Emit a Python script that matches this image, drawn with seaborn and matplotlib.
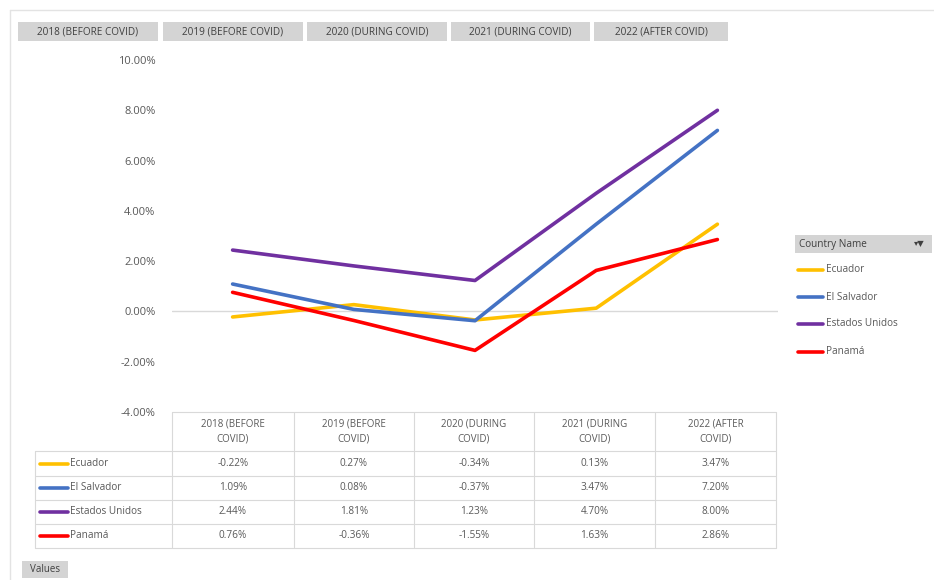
import numpy as np
import pandas as pd
import matplotlib
matplotlib.use("Agg")
import matplotlib.pyplot as plt
from matplotlib.lines import Line2D
from matplotlib.patches import Rectangle
import seaborn as sns

# =========================
# DATA
# =========================
periods = [
    "2018 (BEFORE COVID)",
    "2019 (BEFORE COVID)",
    "2020 (DURING COVID)",
    "2021 (DURING COVID)",
    "2022 (AFTER COVID)",
]
table_headers = [
    "2018 (BEFORE\nCOVID)",
    "2019 (BEFORE\nCOVID)",
    "2020 (DURING\nCOVID)",
    "2021 (DURING\nCOVID)",
    "2022 (AFTER\nCOVID)",
]
countries = ["Ecuador", "El Salvador", "Estados Unidos", "Panamá"]
ecuador = [-0.22, 0.27, -0.34, 0.13, 3.47]
el_salvador = [1.09, 0.08, -0.37, 3.47, 7.20]
estados_unidos = [2.44, 1.81, 1.23, 4.70, 8.00]
panama = [0.76, -0.36, -1.55, 1.63, 2.86]
series = [ecuador, el_salvador, estados_unidos, panama]
colors = ["#FFC000", "#4472C4", "#7030A0", "#FF0000"]
y_ticks = [-4, -2, 0, 2, 4, 6, 8, 10]

df = pd.DataFrame({
    "period": np.tile(np.arange(len(periods)), len(countries)),
    "country": np.repeat(countries, len(periods)),
    "value": np.concatenate(series),
})

# =========================
# STYLE
# =========================
sns.set_theme(style="white")
plt.rcParams["font.family"] = ["Open Sans", "DejaVu Sans"]

W, H = 934, 580
fig = plt.figure(figsize=(W / 100, H / 100), dpi=100)
fig.patch.set_facecolor("white")


def fx(x):
    return x / W


def fy(y):
    return 1 - y / H


def hline(x0, x1, y, color="#d9d9d9", lw=0.8):
    fig.add_artist(Line2D([fx(x0), fx(x1)], [fy(y), fy(y)], color=color, lw=lw))


def vline(x, y0, y1, color="#d9d9d9", lw=0.8):
    fig.add_artist(Line2D([fx(x), fx(x)], [fy(y0), fy(y1)], color=color, lw=lw))


def box(x0, y0, x1, y1, color):
    fig.add_artist(Rectangle((fx(x0), fy(y1)), fx(x1 - x0), (y1 - y0) / H,
                             facecolor=color, edgecolor="none"))


# outer chart border
hline(10, W, 10, color="#e3e3e3", lw=1)
vline(10, 10, H, color="#e3e3e3", lw=1)

# =========================
# MAIN PLOT
# =========================
left, right, top, bottom = 172, 778, 60, 412
ax = fig.add_axes([fx(left), fy(bottom), fx(right - left), (bottom - top) / H])
sns.lineplot(data=df, x="period", y="value", hue="country", palette=colors,
             hue_order=countries, linewidth=2.6, legend=False, ax=ax)
ax.set_xlim(-0.5, len(periods) - 0.5)
ax.set_ylim(-4, 10)
ax.set_yticks(y_ticks)
ax.set_yticklabels([f"{t:.2f}%" for t in y_ticks], color="#595959", fontsize=8)
ax.tick_params(axis="y", length=0, pad=12)
ax.set_xticks([])
ax.set_xlabel("")
ax.set_ylabel("")
ax.axhline(0, color="#d9d9d9", lw=1, zorder=0)
for s in ax.spines.values():
    s.set_visible(False)
ax.set_facecolor("none")

# =========================
# FIELD BUTTONS (top)
# =========================
btn_x = [18, 163, 307, 451, 594]
btn_w = [140, 140, 140, 139, 134]
for x0, w, lab in zip(btn_x, btn_w, periods):
    box(x0, 22, x0 + w, 41, "#d4d4d4")
    fig.text(fx(x0 + w / 2), fy(31.5), lab, ha="center", va="center",
             fontsize=7.2, color="#404040")

# =========================
# DATA TABLE
# =========================
col_edges = [172, 294, 414, 534, 655, 776]
row_edges = [412, 451, 476, 500, 524, 548]
tbl_left = 35
grid_c = "#d9d9d9"
hline(col_edges[0], col_edges[-1], row_edges[0], grid_c)
for y in row_edges[1:]:
    hline(tbl_left, col_edges[-1], y, grid_c)
for x in col_edges:
    vline(x, row_edges[0], row_edges[-1], grid_c)
vline(tbl_left, row_edges[1], row_edges[-1], grid_c)

for j, lab in enumerate(table_headers):
    cx = (col_edges[j] + col_edges[j + 1]) / 2
    fig.text(fx(cx), fy((row_edges[0] + row_edges[1]) / 2), lab, ha="center",
             va="center", fontsize=7, color="#595959", linespacing=1.5)

for i, (name, vals, c) in enumerate(zip(countries, series, colors)):
    cy = (row_edges[i + 1] + row_edges[i + 2]) / 2
    fig.add_artist(Line2D([fx(40), fx(68)], [fy(cy), fy(cy)], color=c, lw=2.6))
    fig.text(fx(70), fy(cy), name, ha="left", va="center", fontsize=7.2,
             color="#595959")
    for j, v in enumerate(vals):
        cx = (col_edges[j] + col_edges[j + 1]) / 2
        fig.text(fx(cx), fy(cy), f"{v:.2f}%", ha="center", va="center",
                 fontsize=7.2, color="#595959")

# =========================
# LEGEND (right)
# =========================
box(795, 235, 932, 253, "#d4d4d4")
fig.text(fx(799), fy(244), "Country Name", ha="left", va="center",
         fontsize=7.2, color="#404040")
fig.text(fx(925), fy(244), "▾▼", ha="right", va="center", fontsize=6,
         color="#404040", family=["DejaVu Sans"])
leg_y = [270, 297, 324, 352]
for name, c, y in zip(countries, colors, leg_y):
    fig.add_artist(Line2D([fx(798), fx(823)], [fy(y), fy(y)], color=c, lw=2.6))
    fig.text(fx(826), fy(y), name, ha="left", va="center", fontsize=7.2,
             color="#595959")

# "Values" button
box(22, 561, 68, 578, "#d4d4d4")
fig.text(fx(45), fy(569.5), "Values", ha="center", va="center", fontsize=7,
         color="#404040")

fig.savefig("out.png", dpi=100)
